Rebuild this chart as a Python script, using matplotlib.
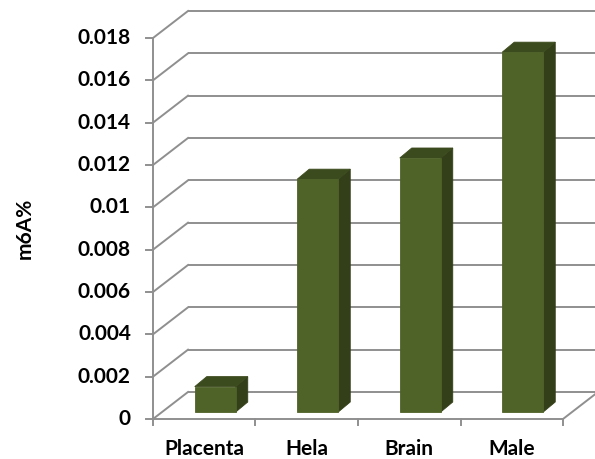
import matplotlib
matplotlib.use("Agg")
import matplotlib.pyplot as plt
from matplotlib.patches import Polygon

categories = ["Placenta", "Hela", "Brain", "Male"]
values = [0.0012, 0.011, 0.012, 0.017]
yticks = [0, 0.002, 0.004, 0.006, 0.008, 0.01, 0.012, 0.014, 0.016, 0.018]
ytick_labels = ["0", "0.002", "0.004", "0.006", "0.008", "0.01", "0.012", "0.014", "0.016", "0.018"]

W, H, DPI = 595, 459, 100
fig = plt.figure(figsize=(W / DPI, H / DPI), dpi=DPI)
fig.patch.set_facecolor("white")

# front plane of the 3-D box, in pixels
left_px, right_px, bottom_px, top_px = 153, 563, 419, 38
ax = fig.add_axes([left_px / W, (H - bottom_px) / H,
                   (right_px - left_px) / W, (bottom_px - top_px) / H])
xmin, xmax = -0.5, len(categories) - 0.5
ymin, ymax = 0, 0.018
ax.set_xlim(xmin, xmax)
ax.set_ylim(ymin, ymax)
ax.axis("off")

sx = (right_px - left_px) / (xmax - xmin)      # px per x unit
sy = (bottom_px - top_px) / (ymax - ymin)      # px per y unit


def off(dx_px, dy_px):
    return dx_px / sx, dy_px / sy


font = "Lato"
fs = 15
grid_c = "#8f8f8f"
lw = 1.4
depth = off(35, 27)

# back wall gridlines and left wall diagonals
for v in yticks:
    ax.plot([xmin + depth[0], xmax + depth[0] + 0.2], [v + depth[1]] * 2,
            color=grid_c, lw=lw, clip_on=False, zorder=1, solid_capstyle="butt")
    ax.plot([xmin, xmin + depth[0]], [v, v + depth[1]],
            color=grid_c, lw=lw, clip_on=False, zorder=1)
    ax.plot([xmin - 7 / sx, xmin], [v, v], color=grid_c, lw=lw, clip_on=False, zorder=2)

for v, lab in zip(yticks, ytick_labels):
    ax.text(xmin - 22 / sx, v, lab, ha="right", va="center", fontsize=fs,
            fontweight="bold", family=font, color="black")

# value axis line
ax.plot([xmin, xmin], [ymin, ymax], color=grid_c, lw=lw, clip_on=False, zorder=2)

# floor front edge with category ticks, and right diagonal
ax.plot([xmin, xmax], [0, 0], color=grid_c, lw=lw, clip_on=False, zorder=2)
for i in range(len(categories) + 1):
    x = xmin + i
    ax.plot([x, x], [0, -6 / sy], color=grid_c, lw=lw, clip_on=False, zorder=2)
ax.plot([xmax, xmax + depth[0]], [0, depth[1]], color=grid_c, lw=lw, clip_on=False, zorder=1)

for i, c in enumerate(categories):
    ax.text(i, -30 / sy, c, ha="center", va="center", fontsize=fs,
            fontweight="bold", family=font, color="black")

fig.text(25 / W, 1 - 228 / H, "m6A%", rotation=90, ha="center", va="center",
         fontsize=fs, fontweight="bold", family=font)

# 3-D columns
bw = 0.4
f_off = off(11, 7)
b_off = off(23, 17)
front_c, side_c, top_c = "#4f6228", "#333f19", "#3c4b1e"
for i, v in enumerate(values):
    x0 = i - bw / 2 + f_off[0]
    x1 = i + bw / 2 + f_off[0]
    y0 = f_off[1]
    y1 = v + f_off[1]
    ddx = b_off[0] - f_off[0]
    ddy = b_off[1] - f_off[1]
    front = [(x0, y0), (x1, y0), (x1, y1), (x0, y1)]
    side = [(x1, y0), (x1 + ddx, y0 + ddy), (x1 + ddx, y1 + ddy), (x1, y1)]
    top = [(x0, y1), (x1, y1), (x1 + ddx, y1 + ddy), (x0 + ddx, y1 + ddy)]
    for pts, col in ((side, side_c), (top, top_c), (front, front_c)):
        ax.add_patch(Polygon(pts, closed=True, facecolor=col, edgecolor=col,
                             lw=0.6, zorder=5, clip_on=False))

fig.savefig("out.png", dpi=DPI)
